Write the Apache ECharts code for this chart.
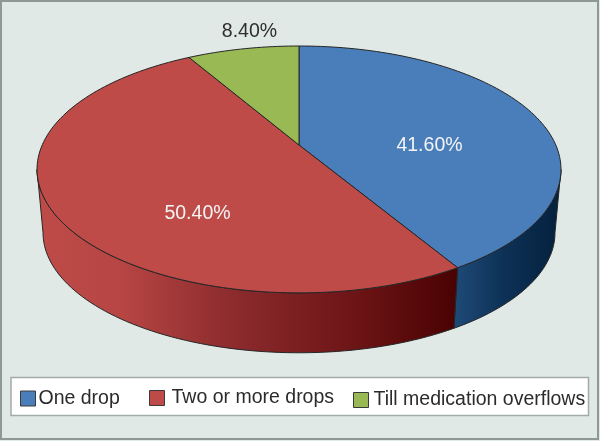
<!DOCTYPE html>
<html>
<head>
<meta charset="utf-8">
<style>html,body{margin:0;padding:0;background:#E0E9E6}#c{width:600px;height:441px}</style>
<script src="https://cdn.jsdelivr.net/npm/echarts@6/dist/echarts.min.js"></script>
</head>
<body>
<div id="c"></div>
<script>
const categories = ['One drop', 'Two or more drops', 'Till medication overflows'];
const values = [41.6, 50.4, 8.4];
const valueLabels = ['41.60%', '50.40%', '8.40%'];

const colors = ['#4A7EBB', '#BE4B48', '#98B954'];
const labelColors = ['#F4F4F4', '#F4F4F4', '#2E2E2E'];
const labelPos = [[429.5, 146], [197.5, 213.5], [249.5, 32]];
const FONT = '19.5px "Liberation Sans", Arial, sans-serif';

// perspective projection of the pie's rim
const K = 0.198, CX = 299;
const topRim = { cy: 145, a: 256.8, b: 118.6 };
const botRim = { cy: 209, a: 250.9, b: 115.3 };
const rad = d => d * Math.PI / 180;
function project(rim, deg) {
  const s = Math.sin(rad(deg)), c = Math.cos(rad(deg)), d = 1 + K * c;
  return [CX + rim.a * s / d, rim.cy - rim.b * c / d];
}
function arc(rim, from, to) {
  const pts = [], n = Math.max(2, Math.ceil(Math.abs(to - from) / 1.5));
  for (let i = 0; i <= n; i++) pts.push(project(rim, from + (to - from) * i / n));
  return pts;
}
const total = values.reduce((a, b) => a + b, 0);
const silR = Math.acos(-K) * 180 / Math.PI, silL = 360 - silR;
const sideFill = [
  { type: 'linear', global: true, x: 452, y: 0, x2: 556, y2: 0,
    colorStops: [{ offset: 0, color: '#1F4B79' }, { offset: 0.5, color: '#0D3156' }, { offset: 1, color: '#05223F' }] },
  { type: 'linear', global: true, x: 40, y: 0, x2: 455, y2: 0,
    colorStops: [{ offset: 0, color: '#BE4B48' }, { offset: 0.2, color: '#B64543' }, { offset: 0.45, color: '#8E2C2E' }, { offset: 0.75, color: '#6E1517' }, { offset: 1, color: '#4A0202' }] },
  { type: 'linear', global: true, x: 0, y: 0, x2: 1, y2: 0, colorStops: [{ offset: 0, color: '#98B954' }, { offset: 1, color: '#98B954' }] }
];
const EDGE = { stroke: '#262626', lineWidth: 1 };

function sliceSeries(i) {
  const start = values.slice(0, i).reduce((a, b) => a + b, 0);
  return {
    type: 'custom',
    name: categories[i],
    coordinateSystem: 'none',
    itemStyle: { color: colors[i] },
    silent: true,
    data: [[values[i], start]],
    renderItem: function (params, api) {
      const t0 = api.value(1) / total * 360;
      const t1 = t0 + api.value(0) / total * 360;
      const children = [];
      const s0 = Math.max(t0, silR), s1 = Math.min(t1, silL);
      if (s0 < s1) {
        const pts = arc(topRim, s0, s1).concat(arc(botRim, s1, s0));
        children.push({ type: 'polygon', shape: { points: pts },
          style: Object.assign({ fill: sideFill[i], lineJoin: 'round' }, EDGE) });
      }
      const hub = [CX, topRim.cy];
      children.push({ type: 'polygon', shape: { points: [hub].concat(arc(topRim, t0, t1)) },
        style: Object.assign({ fill: colors[i], lineJoin: 'round' }, EDGE) });
      children.push({ type: 'text', x: labelPos[i][0], y: labelPos[i][1],
        style: { text: valueLabels[i], fill: labelColors[i], font: FONT, align: 'center', verticalAlign: 'middle' } });
      return { type: 'group', children: children };
    }
  };
}

const legendLeft = [20, 149, 353];
const legendPad = [-2, 2, 0];
const legendTop = [388.5, 388, 390];

const chart = echarts.init(document.getElementById('c'), null, { renderer: 'canvas' });
chart.setOption({
  animation: false,
  backgroundColor: '#E0E9E6',
  graphic: [
    { type: 'rect', shape: { x: 1, y: 1, width: 597, height: 438 }, silent: true, z: 0,
      style: { fill: 'transparent', stroke: '#8E9996', lineWidth: 2 } },
    { type: 'rect', shape: { x: 11, y: 377.5, width: 577.5, height: 38 }, silent: true, z: 0,
      style: { fill: '#FFFFFF', stroke: '#A3ABA8', lineWidth: 1.5 } }
  ],
  legend: categories.map((c, i) => ({
    data: [c],
    left: legendLeft[i],
    top: legendTop[i],
    padding: 0,
    icon: 'rect',
    itemWidth: 15,
    itemHeight: 15,
    itemStyle: { borderColor: '#3A3A3A', borderWidth: 1 },
    selectedMode: false,
    textStyle: { color: '#2B2B2B', fontSize: 19.5, fontFamily: '"Liberation Sans", Arial, sans-serif', padding: [0, 0, 0, legendPad[i]] }
  })),
  series: categories.map((c, i) => sliceSeries(i))
});
</script>
</body>
</html>
